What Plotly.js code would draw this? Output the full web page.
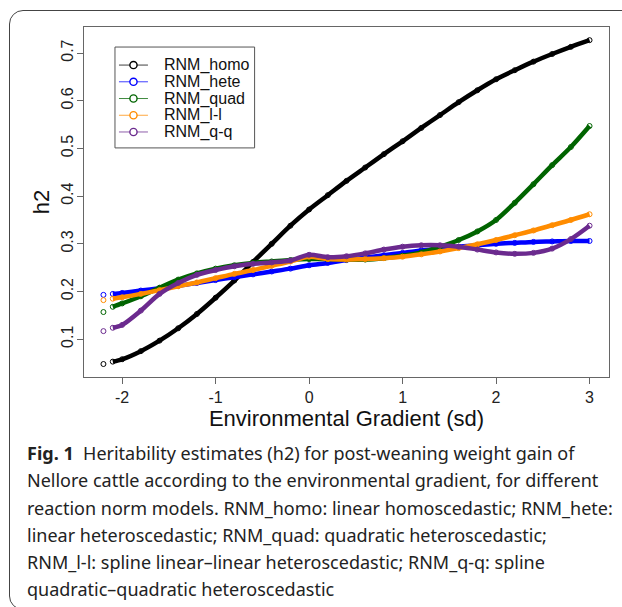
<!DOCTYPE html>
<html>
<head>
<meta charset="utf-8">
<script src="https://cdn.plot.ly/plotly-3.0.1.min.js"></script>
<style>
html,body{margin:0;padding:0;background:#fff;width:622px;height:607px;overflow:hidden;}
#frame{position:absolute;left:9px;top:10px;width:700px;height:600px;border:1.5px solid #444;border-radius:14px;box-sizing:border-box;}
#chart{position:absolute;left:0;top:0;width:622px;height:607px;}
</style>
</head>
<body>
<div id="frame"></div>
<div id="chart"></div>
<script>
// Environmental gradient (sd)
const eg = [-2.2, -2.1, -2.0, -1.8, -1.6, -1.4, -1.2, -1.0, -0.8, -0.6, -0.4, -0.2, 0.0, 0.2, 0.4, 0.6, 0.8, 1.0, 1.2, 1.4, 1.6, 1.8, 2.0, 2.2, 2.4, 2.6, 2.8, 3.0];
// h2 estimates per model
const rnmHomo = [0.048, 0.053, 0.058, 0.075, 0.097, 0.123, 0.153, 0.187, 0.223, 0.262, 0.300, 0.338, 0.372, 0.402, 0.432, 0.460, 0.488, 0.515, 0.543, 0.570, 0.597, 0.622, 0.645, 0.664, 0.682, 0.698, 0.713, 0.727];
const rnmHete = [0.193, 0.195, 0.197, 0.202, 0.207, 0.212, 0.218, 0.224, 0.230, 0.236, 0.242, 0.248, 0.255, 0.260, 0.266, 0.271, 0.276, 0.281, 0.286, 0.290, 0.294, 0.297, 0.300, 0.302, 0.304, 0.305, 0.306, 0.306];
const rnmQuad = [0.157, 0.168, 0.175, 0.190, 0.208, 0.225, 0.238, 0.248, 0.255, 0.260, 0.263, 0.266, 0.268, 0.268, 0.267, 0.267, 0.270, 0.275, 0.282, 0.294, 0.308, 0.326, 0.350, 0.386, 0.425, 0.465, 0.503, 0.547];
const rnmLL   = [0.182, 0.185, 0.188, 0.195, 0.203, 0.211, 0.219, 0.228, 0.237, 0.245, 0.254, 0.263, 0.273, 0.268, 0.267, 0.268, 0.270, 0.273, 0.278, 0.284, 0.291, 0.299, 0.308, 0.318, 0.328, 0.339, 0.350, 0.362];
const rnmQQ   = [0.117, 0.124, 0.130, 0.160, 0.195, 0.218, 0.235, 0.245, 0.253, 0.258, 0.261, 0.265, 0.277, 0.272, 0.274, 0.280, 0.288, 0.294, 0.297, 0.297, 0.294, 0.288, 0.282, 0.279, 0.281, 0.290, 0.310, 0.338];
const seriesNames = ["RNM_homo", "RNM_hete", "RNM_quad", "RNM_l-l", "RNM_q-q"];
const xTickVals = [-2, -1, 0, 1, 2, 3];
const yTickVals = [0.1, 0.2, 0.3, 0.4, 0.5, 0.6, 0.7];
const xTitle = "Environmental Gradient (sd)";
const yTitle = "h2";
const captionLines = [
  "<b>Fig. 1</b>  Heritability estimates (h2) for post-weaning weight gain of",
  "Nellore cattle according to the environmental gradient, for different",
  "reaction norm models. RNM_homo: linear homoscedastic; RNM_hete:",
  "linear heteroscedastic; RNM_quad: quadratic heteroscedastic;",
  "RNM_l-l: spline linear–linear heteroscedastic; RNM_q-q: spline",
  "quadratic–quadratic heteroscedastic"
];

const allY = [rnmHomo, rnmHete, rnmQuad, rnmLL, rnmQQ];
const colors = ["#000000", "#0000FF", "#006400", "#FF8C00", "#6B2A8E"];

// plot geometry (px)
const W = 622, H = 607;
const mL = 84, mR = 12.7, mT = 27.3, mB = 230.3;
const pw = W - mL - mR, ph = H - mT - mB;
const px2x = p => (p - mL) / pw;
const py2y = p => (H - mB - p) / ph;

const traces = [];
allY.forEach((ys, i) => {
  traces.push({
    x: eg.slice(1), y: ys.slice(1), mode: "lines", type: "scatter",
    line: {color: colors[i], width: 4.5, shape: "spline", smoothing: 0.8},
    showlegend: false, hoverinfo: "skip"
  });
  traces.push({
    x: eg, y: ys, mode: "markers", type: "scatter",
    marker: {symbol: "circle-open", size: 5, color: colors[i], line: {width: 1, color: colors[i]}},
    showlegend: false, hoverinfo: "skip"
  });
});

const fontAxis = {family: "Liberation Sans, Arial, sans-serif", size: 16, color: "#222"};
const annotations = captionLines.map((t, i) => ({
  text: t, xref: "paper", yref: "paper",
  x: px2x(25), y: py2y(453 + i * 27),
  xanchor: "left", yanchor: "middle", showarrow: false,
  font: {family: "Noto Sans, Open Sans, sans-serif", size: 18, color: "#222"}
}));

// legend drawn R-style: box, short line, open circle, label
const legBox = {l: 115, t: 47.3, r: 254.7, b: 148};
const rowY0 = 65.3, rowStep = 16.7;
const shapes = [{
  type: "rect", xref: "paper", yref: "paper",
  x0: px2x(legBox.l), x1: px2x(legBox.r), y0: py2y(legBox.b), y1: py2y(legBox.t),
  line: {color: "#555", width: 1}, fillcolor: "#fff", layer: "above"
}];
seriesNames.forEach((nm, i) => {
  const ry = py2y(rowY0 + i * rowStep);
  shapes.push({
    type: "line", xref: "paper", yref: "paper",
    x0: px2x(119), x1: px2x(148), y0: ry, y1: ry,
    line: {color: colors[i], width: 1}, opacity: 0.75, layer: "above"
  });
  shapes.push({
    type: "circle", xref: "paper", yref: "paper", xsizemode: "pixel", ysizemode: "pixel",
    xanchor: px2x(133.5), yanchor: ry, x0: -3.6, x1: 3.6, y0: -3.6, y1: 3.6,
    line: {color: colors[i], width: 1.4}, fillcolor: "#fff", layer: "above"
  });
  annotations.push({
    text: nm, xref: "paper", yref: "paper", x: px2x(162), y: ry,
    xanchor: "left", yanchor: "middle", showarrow: false,
    font: {family: "Liberation Sans, Arial, sans-serif", size: 16, color: "#111"}
  });
});

const layout = {
  width: W, height: H,
  margin: {l: mL, r: mR, t: mT, b: mB, pad: 0},
  paper_bgcolor: "rgba(0,0,0,0)", plot_bgcolor: "#fff",
  showlegend: false,
  xaxis: {
    range: [-2.408, 3.208], tickvals: xTickVals, ticktext: xTickVals.map(String),
    ticks: "outside", ticklen: 6, tickcolor: "#666", tickwidth: 1,
    showline: true, linecolor: "#666", linewidth: 1, mirror: true,
    showgrid: false, zeroline: false, tickfont: fontAxis,
    title: {text: xTitle, font: {family: "Liberation Sans, Arial, sans-serif", size: 22, color: "#111"}, standoff: 0}
  },
  yaxis: {
    range: [0.0208, 0.7546], tickvals: yTickVals, ticktext: yTickVals.map(v => v.toFixed(1)),
    ticks: "outside", ticklen: 6, tickcolor: "#666", tickwidth: 1, tickangle: -90,
    ticklabelstandoff: -2,
    showline: true, linecolor: "#666", linewidth: 1, mirror: true,
    showgrid: false, zeroline: false, tickfont: fontAxis,
    title: {text: yTitle, font: {family: "Liberation Sans, Arial, sans-serif", size: 22, color: "#111"}, standoff: 2}
  },
  shapes: shapes,
  annotations: annotations
};

Plotly.newPlot("chart", traces, layout, {displayModeBar: false, staticPlot: true});
</script>
</body>
</html>
